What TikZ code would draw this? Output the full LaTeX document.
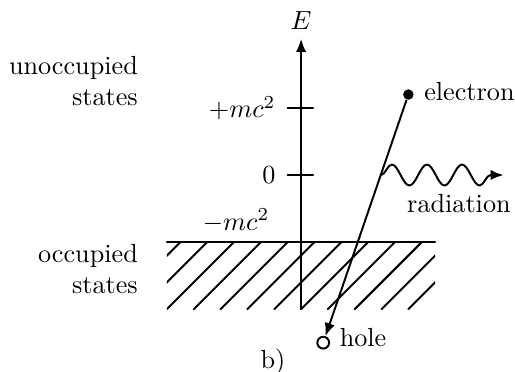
\documentclass[tikz,border=0pt]{standalone}
\usepackage{amsmath,amssymb}
\usetikzlibrary{arrows.meta,decorations.pathmorphing}

\begin{document}
\begin{tikzpicture}[
  x=0.9cm, y=0.9cm,
  line cap=round, line join=round,
  >={Latex[length=5pt,width=4pt]},
  line width=0.75pt
]
\useasboundingbox (-4.49,-2.925) rectangle (3.19,2.61);

% energy axis
\draw[->] (0,-2) -- (0,2.03) node[above] (E) {$E$};

% ticks +mc^2 and 0
\foreach \y/\lab/\nm in {1/{+mc^2}/tp, 0/0/tz}
  \draw (-0.2,\y) -- (0.18,\y) node[pos=0, left, xshift=-1pt] (\nm) {$\lab$};

% lower limit -mc^2
\coordinate (gl) at (-2,-1);
\coordinate (gr) at (2,-1);
\draw (gl) -- (gr);
\node[anchor=south east] (tm) at (-0.33,-1) {$-mc^2$};

% hatching of the occupied states
\begin{scope}
  \clip (-2,-2) rectangle (2,-1);
  \foreach \i in {0,...,11}
    \draw ({-2.8+0.4*\i},-2) -- ++(1,1);
\end{scope}

% side labels
\node[anchor=east, align=right] (unocc) at (-2.29,1.4) {unoccupied\\states};
\node[anchor=east, align=right] (occ) at (-2.29,-1.4) {occupied\\states};

% electron and hole
\node[circle, fill, inner sep=0pt, minimum size=4pt] (el) at (1.6,1.2) {};
\node[right, yshift=1pt] (ellab) at (el.east) {electron};
\node[circle, draw, fill=white, inner sep=0pt, minimum size=4.5pt] (hole) at (0.33,-2.5) {};
\node[right, yshift=2pt] (holelab) at (hole.east) {hole};
\draw[->] (el) -- (hole);

% radiation
\coordinate (w0) at (1.19,0);
\coordinate (w1) at (3.02,0);
\draw[->, decorate, decoration={snake, amplitude=4pt, segment length=13.4pt, post length=1pt}] (w0) -- (w1);
\node[anchor=east] (rad) at (3.27,-0.43) {radiation};

\node (b) at (-0.42,-2.79) {b)};
\end{tikzpicture}
\end{document}
